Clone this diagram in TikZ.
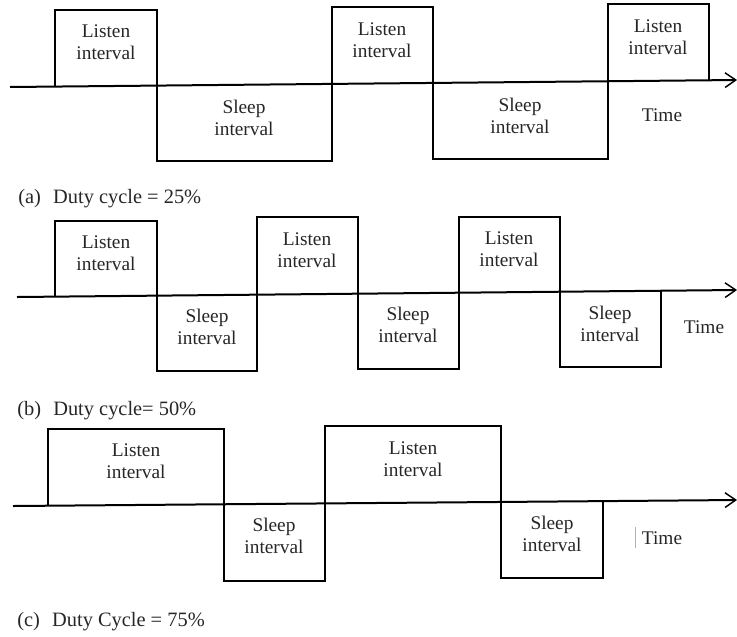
\documentclass[tikz,border=0pt]{standalone}
\usepackage{fontspec}
\setmainfont{Liberation Serif}
\usetikzlibrary{arrows.meta}
\begin{document}
\begin{tikzpicture}[x=0.75pt,y=-0.75pt,
  boxline/.style={line width=1.3pt,black},
  axisline/.style={line width=1.5pt,black,-{Straight Barb[length=8pt,width=11pt,line width=1.1pt]}},
  lbl/.style={font=\fontsize{14.5}{16.5}\selectfont,align=center,inner sep=0pt,text=black!85},
  captext/.style={font=\fontsize{15.3}{17}\selectfont,anchor=west,inner sep=0pt,text=black!85}]
\useasboundingbox (0,0) rectangle (737,636);

% ---------- (a) ----------
\coordinate (a0) at (10,87);
\coordinate (a1) at (737,80);
\draw[boxline] (55,86.6) -- (55,10) -- (157,10) -- (157,85.6) -- (157,161) -- (332,161) -- (332,83.9);
\draw[boxline] (332,83.9) -- (332,7) -- (433,7) -- (433,82.9) -- (433,159) -- (608,159) -- (608,81.2);
\draw[boxline] (608,81.2) -- (608,4) -- (709,4) -- (709,80.3);
\draw[axisline] (a0) -- (a1);
\node[lbl] (aL1) at (106,42) {Listen\\interval};
\node[lbl] (aS1) at (244,118) {Sleep\\interval};
\node[lbl] (aL2) at (382,40) {Listen\\interval};
\node[lbl] (aS2) at (520,116) {Sleep\\interval};
\node[lbl] (aL3) at (658,37) {Listen\\interval};
\node[lbl] (aT) at (662,115) {Time};
\node[captext] (aC) at (18,199) {(a)\hspace{0.6em}Duty cycle = 25\%};

% ---------- (b) ----------
\coordinate (b0) at (17,297);
\coordinate (b1) at (737,290);
\draw[boxline] (55,296.6) -- (55,221) -- (157,221) -- (157,295.6) -- (157,371) -- (257,371) -- (257,294.7);
\draw[boxline] (257,294.7) -- (257,217) -- (358,217) -- (358,293.7) -- (358,369) -- (459,369) -- (459,292.7);
\draw[boxline] (459,292.7) -- (459,217) -- (560,217) -- (560,291.7) -- (560,367) -- (661,367) -- (661,290.7);
\draw[axisline] (b0) -- (b1);
\node[lbl] (bL1) at (106,253) {Listen\\interval};
\node[lbl] (bS1) at (207,327) {Sleep\\interval};
\node[lbl] (bL2) at (307,250) {Listen\\interval};
\node[lbl] (bS2) at (408,325) {Sleep\\interval};
\node[lbl] (bL3) at (509,249) {Listen\\interval};
\node[lbl] (bS3) at (610,324) {Sleep\\interval};
\node[lbl] (bT) at (704,327) {Time};
\node[captext] (bC) at (17,411) {(b)\hspace{0.6em}Duty cycle= 50\%};

% ---------- (c) ----------
\coordinate (c0) at (13,506);
\coordinate (c1) at (737,500);
\draw[boxline] (48,505.7) -- (48,429) -- (224,429) -- (224,504.3) -- (224,581) -- (325,581) -- (325,503.4);
\draw[boxline] (325,503.4) -- (325,426) -- (501,426) -- (501,502) -- (501,578) -- (603,578) -- (603,501.1);
\draw[axisline] (c0) -- (c1);
\node[lbl] (cL1) at (136,461) {Listen\\interval};
\node[lbl] (cS1) at (274,536) {Sleep\\interval};
\node[lbl] (cL2) at (413,459) {Listen\\interval};
\node[lbl] (cS2) at (552,534) {Sleep\\interval};
\node[lbl] (cT) at (662,538) {Time};
\draw[black!30,line width=0.6pt] (635,527) -- (635,548);
\node[captext] (cC) at (17,622) {(c)\hspace{0.6em}Duty Cycle = 75\%};
\end{tikzpicture}
\end{document}
